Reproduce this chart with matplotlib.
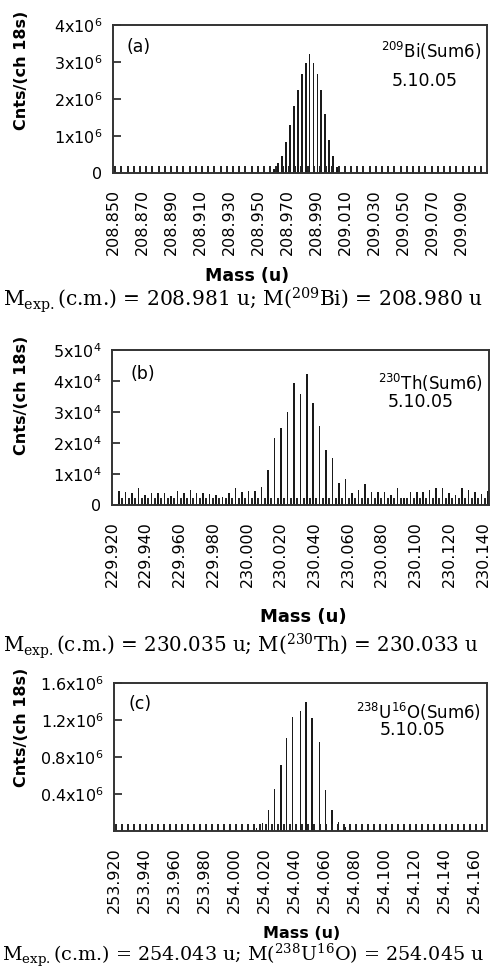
import numpy as np
import matplotlib
matplotlib.use("Agg")
import matplotlib.pyplot as plt
from matplotlib.ticker import FixedLocator

plt.rcParams['font.family'] = ['DejaVu Sans']
plt.rcParams['mathtext.fontset'] = 'dejavusans'

W, H = 500, 971

# ---------------- data ----------------
# (a) 209Bi : peak channels (mass u) and counts
a_mass = [208.9610, 208.9637, 208.9664, 208.9691, 208.9718, 208.9745, 208.9772,
          208.9799, 208.9826, 208.9853, 208.9880, 208.9907, 208.9934, 208.9961,
          208.9988, 209.0015, 209.0042]
a_counts = [0.10e6, 0.27e6, 0.46e6, 0.85e6, 1.30e6, 1.81e6, 2.24e6, 2.68e6, 2.98e6,
            3.22e6, 2.98e6, 2.68e6, 2.24e6, 1.60e6, 0.90e6, 0.45e6, 0.15e6]
a_ticklabels = ['208.850', '208.870', '208.890', '208.910', '208.930', '208.950',
                '208.970', '208.990', '209.010', '209.030', '209.050', '209.070',
                '209.090']

# (b) 230Th : channel counts (58 channels)
b_start, b_step = 229.9242, 0.003838
b_counts = [0.46e4, 0.41e4, 0.38e4, 0.54e4, 0.32e4, 0.40e4, 0.40e4, 0.40e4, 0.29e4,
            0.45e4, 0.38e4, 0.48e4, 0.40e4, 0.40e4, 0.35e4, 0.32e4, 0.25e4, 0.40e4,
            0.54e4, 0.41e4, 0.45e4, 0.45e4, 0.57e4, 1.13e4, 2.17e4, 2.47e4, 3.01e4,
            3.95e4, 3.57e4, 4.23e4, 3.28e4, 2.56e4, 1.77e4, 1.51e4, 0.70e4, 0.83e4,
            0.38e4, 0.48e4, 0.67e4, 0.43e4, 0.43e4, 0.43e4, 0.32e4, 0.54e4, 0.22e4,
            0.43e4, 0.43e4, 0.43e4, 0.48e4, 0.54e4, 0.54e4, 0.38e4, 0.32e4, 0.54e4,
            0.50e4, 0.43e4, 0.35e4, 0.46e4]
b_ticklabels = ['229.920', '229.940', '229.960', '229.980', '230.000', '230.020',
                '230.040', '230.060', '230.080', '230.100', '230.120', '230.140']

# (c) 238U16O : peak channels
c_mass = [254.0149, 254.0188, 254.0229, 254.0272, 254.0313, 254.0349, 254.0389,
          254.0442, 254.0480, 254.0520, 254.0571, 254.0609, 254.0654, 254.0696,
          254.0740]
c_counts = [0.03e6, 0.09e6, 0.23e6, 0.45e6, 0.71e6, 1.01e6, 1.23e6, 1.30e6, 1.39e6,
            1.22e6, 0.96e6, 0.44e6, 0.23e6, 0.10e6, 0.04e6]
c_ticklabels = ['253.920', '253.940', '253.960', '253.980', '254.000', '254.020',
                '254.040', '254.060', '254.080', '254.100', '254.120', '254.140',
                '254.160']

fig = plt.figure(figsize=(W / 100, H / 100), dpi=100)


def make_axes(l, r, t, b):
    return fig.add_axes([l / W, 1 - b / H, (r - l) / W, (b - t) / H])


def style(ax, xlim, ylim, xt, xtl, yt, ytl, minor_start, minor_step):
    ax.set_xlim(*xlim)
    ax.set_ylim(*ylim)
    for s in ax.spines.values():
        s.set_linewidth(1.4)
        s.set_color('#333333')
    ax.set_xticks([float(v) for v in xt])
    ax.set_xticklabels(xtl, rotation=90, fontsize=11.5)
    ax.set_yticks(yt)
    ax.set_yticklabels(ytl, fontsize=11.5)
    mn = np.arange(minor_start, xlim[1], minor_step)
    ax.xaxis.set_minor_locator(FixedLocator(mn))
    ax.tick_params(axis='x', which='major', length=0, pad=11.5)
    ax.tick_params(axis='x', which='minor', direction='in', length=5, width=1.4,
                   color='#222222')
    ax.tick_params(axis='y', which='major', direction='in', length=6, width=1.3,
                   color='#333333', pad=7.5)


def annotate(ax, tag, tag_xy, iso, iso_y, date_xy):
    ax.text(tag_xy[0], tag_xy[1], tag, transform=ax.transAxes, fontsize=12.5,
            va='top')
    ax.text(0.984, iso_y, iso, transform=ax.transAxes, fontsize=12, ha='right',
            va='baseline')
    ax.text(date_xy[0], date_xy[1], '5.10.05', transform=ax.transAxes,
            fontsize=12.5, ha='center', va='baseline')


# ---- panel (a)
ax = make_axes(113, 487, 25, 173)
ax.bar(a_mass, a_counts, width=0.0012, color='#1a1a1a')
style(ax, (208.850, 209.1074), (0, 4e6), a_ticklabels, a_ticklabels,
      [0, 1e6, 2e6, 3e6, 4e6],
      ['0', r'1x10$^6$', r'2x10$^6$', r'3x10$^6$', r'4x10$^6$'], 208.8515, 0.00427)
annotate(ax, '(a)', (0.035, 0.91), r'$^{209}$Bi(Sum6)', 0.775, (0.834, 0.59))

# ---- panel (b)
ax = make_axes(112, 489, 350, 505)
b_mass = b_start + b_step * np.arange(len(b_counts))
ax.bar(b_mass, b_counts, width=0.0009, color='#1a1a1a')
style(ax, (229.920, 230.1436), (0, 5e4), b_ticklabels, b_ticklabels,
      [0, 1e4, 2e4, 3e4, 4e4, 5e4],
      ['0', r'1x10$^4$', r'2x10$^4$', r'3x10$^4$', r'4x10$^4$', r'5x10$^4$'],
      b_start + b_step / 2, b_step)
annotate(ax, '(b)', (0.048, 0.905), r'$^{230}$Th(Sum6)', 0.74, (0.82, 0.63))

# ---- panel (c)
ax = make_axes(114, 487, 683, 831)
ax.bar(c_mass, c_counts, width=0.0009, color='#1a1a1a')
style(ax, (253.920, 254.1687), (0, 1.6e6), c_ticklabels, c_ticklabels,
      [0.4e6, 0.8e6, 1.2e6, 1.6e6],
      [r'0.4x10$^6$', r'0.8x10$^6$', r'1.2x10$^6$', r'1.6x10$^6$'],
      253.9215, 0.0040)
annotate(ax, '(c)', (0.038, 0.92), r'$^{238}$U$^{16}$O(Sum6)', 0.76, (0.80, 0.65))

# ---- y labels, x labels, captions (figure pixel coordinates)
def ftext(x, y, s, **kw):
    fig.text(x / W, 1 - y / H, s, **kw)

for yc in (70, 395, 727):
    ftext(22, yc, 'Cnts/(ch 18s)', rotation=90, fontsize=11.5, fontweight='bold',
          ha='center', va='center')

ftext(247, 276, 'Mass (u)', fontsize=12.5, fontweight='bold', ha='center', va='center')
ftext(303, 617, 'Mass (u)', fontsize=13, fontweight='bold', ha='center', va='center')
ftext(302, 933, 'Mass (u)', fontsize=11.5, fontweight='bold', ha='center', va='center')

plt.rcParams['mathtext.fontset'] = 'dejavuserif'
cap_kw = dict(family='DejaVu Serif', ha='left', va='center')
ftext(3, 300, r'M$_{\rm exp.}$(c.m.) = 208.981 u; M($^{209}$Bi) = 208.980 u',
      fontsize=14.6, **cap_kw)
ftext(3, 646, r'M$_{\rm exp.}$(c.m.) = 230.035 u; M($^{230}$Th) = 230.033 u',
      fontsize=14.3, **cap_kw)
ftext(2, 955, r'M$_{\rm exp.}$(c.m.) = 254.043 u; M($^{238}$U$^{16}$O) = 254.045 u',
      fontsize=13.8, **cap_kw)

fig.savefig('out.png', dpi=100)
